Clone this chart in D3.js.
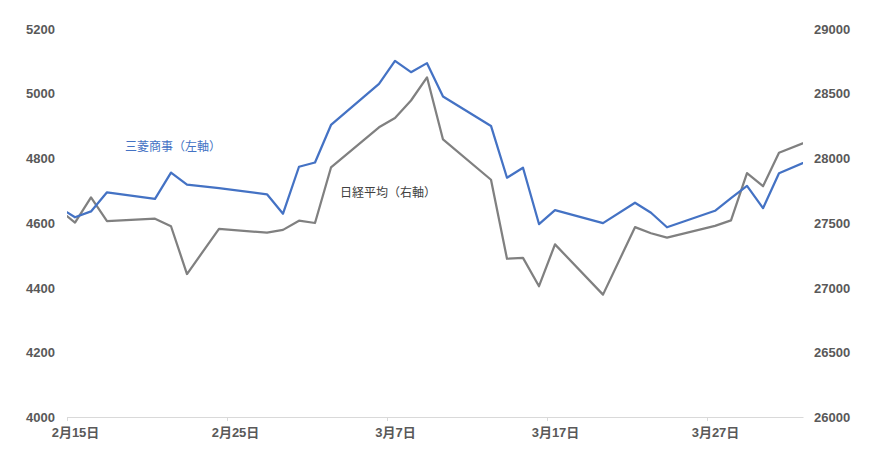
<!DOCTYPE html>
<html>
<head>
<meta charset="utf-8">
<script src="https://cdn.jsdelivr.net/npm/d3@7"></script>
<style>
  html, body { margin: 0; padding: 0; background: #fff; }
  svg { display: block; }
</style>
</head>
<body>
<svg id="chart" width="870" height="455"></svg>
<script>
// ---- data ----
const dates = ["2023-02-14","2023-02-15","2023-02-16","2023-02-17","2023-02-20","2023-02-21","2023-02-22","2023-02-24",
  "2023-02-27","2023-02-28","2023-03-01","2023-03-02","2023-03-03","2023-03-06","2023-03-07","2023-03-08","2023-03-09",
  "2023-03-10","2023-03-13","2023-03-14","2023-03-15","2023-03-16","2023-03-17","2023-03-20","2023-03-22","2023-03-23",
  "2023-03-24","2023-03-27","2023-03-28","2023-03-29","2023-03-30","2023-03-31","2023-04-03"];
const mitsubishi = [4648,4617,4635,4694,4674,4755,4718,4707,4688,4628,4773,4786,4902,5029,5100,5065,5093,4990,4899,
  4739,4770,4596,4639,4599,4662,4631,4586,4637,4676,4714,4645,4753,4816];
const nikkei = [27602,27501,27696,27513,27531,27473,27104,27453,27423,27445,27516,27498,27927,28237,28309,28444,28623,
  28143,27832,27222,27229,27010,27333,26945,27466,27419,27385,27476,27518,27883,27782,28041,28188];
const leftTicks = [4000,4200,4400,4600,4800,5000,5200];
const rightTicks = [26000,26500,27000,27500,28000,28500,29000];
const xTickDates = ["2023-02-15","2023-02-25","2023-03-07","2023-03-17","2023-03-27"];
const xDomain = ["2023-02-15","2023-04-02"];
const seriesLabels = ["三菱商事（左軸）","日経平均（右軸）"];

// ---- layout ----
const L = 67, R = 803, T = 28.5, B = 417;
const parse = d3.utcParse("%Y-%m-%d");
const fmtTick = d => (d.getUTCMonth()+1) + "月" + d.getUTCDate() + "日";
const DAY = 86400000;

const x = d3.scaleUtc().domain(xDomain.map(parse)).range([L, R]);
const yL = d3.scaleLinear().domain([4000, 5200]).range([B, T]);
const yR = d3.scaleLinear().domain([26000, 29000]).range([B, T]);

const svg = d3.select("#chart");
const font = "'Liberation Sans', 'Noto Sans CJK JP', sans-serif";

svg.append("defs").append("clipPath").attr("id", "plot")
  .append("rect").attr("x", L).attr("y", 0).attr("width", R - L).attr("height", 455);

// x axis
const xAxisG = svg.append("g").attr("transform", `translate(0,${B})`)
  .call(d3.axisBottom(x).tickValues(xTickDates.map(parse)).tickFormat(fmtTick).tickSize(4).tickSizeOuter(0));
xAxisG.select(".domain").attr("stroke", "#d9d9d9").attr("stroke-width", 1);
xAxisG.selectAll(".tick line").attr("stroke", "#d9d9d9");
xAxisG.selectAll(".tick text")
  .attr("x", x(new Date(Date.UTC(2023,1,15) + DAY/2)) - L)
  .attr("y", 11)
  .attr("fill", "#595959").attr("font-size", 13).attr("font-weight", "bold").attr("font-family", font);

// left axis
const lAxisG = svg.append("g").attr("transform", `translate(${L - 12},0)`)
  .call(d3.axisLeft(yL).tickValues(leftTicks).tickFormat(d3.format("d")).tickSize(0));
lAxisG.select(".domain").remove();
lAxisG.selectAll(".tick text").attr("x", 0).attr("dy", "0.35em")
  .attr("fill", "#595959").attr("font-size", 13).attr("font-weight", "bold").attr("font-family", font);

// right axis
const rAxisG = svg.append("g").attr("transform", `translate(${R + 11},0)`)
  .call(d3.axisRight(yR).tickValues(rightTicks).tickFormat(d3.format("d")).tickSize(0));
rAxisG.select(".domain").remove();
rAxisG.selectAll(".tick text").attr("x", 0).attr("dy", "0.35em")
  .attr("fill", "#595959").attr("font-size", 13).attr("font-weight", "bold").attr("font-family", font);

// lines
const pts = dates.map(parse).map(d => new Date(d.getTime() + DAY/2));
const lineL = d3.line().x((d,i) => x(pts[i])).y(d => yL(d));
const lineR = d3.line().x((d,i) => x(pts[i])).y(d => yR(d));

const g = svg.append("g").attr("clip-path", "url(#plot)");
g.append("path").datum(nikkei).attr("d", lineR)
  .attr("fill", "none").attr("stroke", "#808080").attr("stroke-width", 2.25).attr("stroke-linejoin", "round");
g.append("path").datum(mitsubishi).attr("d", lineL)
  .attr("fill", "none").attr("stroke", "#4472C4").attr("stroke-width", 2.25).attr("stroke-linejoin", "round");

// series labels
svg.append("text").attr("x", 125).attr("y", 147).attr("dy", "0.35em")
  .attr("font-family", "'Noto Sans CJK JP', sans-serif").attr("font-size", 12)
  .attr("fill", "#4472C4").text(seriesLabels[0]);
svg.append("text").attr("x", 340).attr("y", 193).attr("dy", "0.35em")
  .attr("font-family", "'Noto Sans CJK JP', sans-serif").attr("font-size", 12)
  .attr("fill", "#404040").text(seriesLabels[1]);
</script>
</body>
</html>
